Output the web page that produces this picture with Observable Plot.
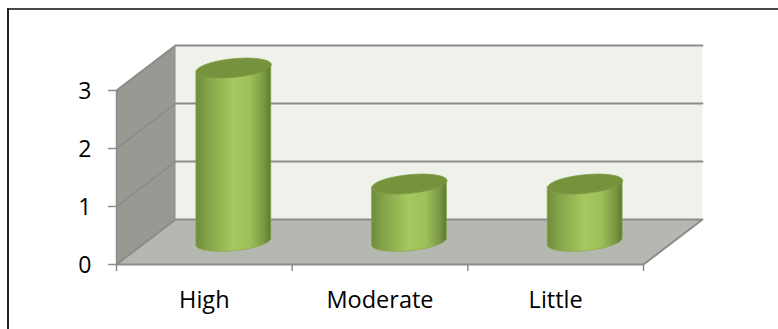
<!DOCTYPE html>
<html>
<head>
<meta charset="utf-8">
<script src="https://cdn.jsdelivr.net/npm/d3@7"></script>
<script src="https://cdn.jsdelivr.net/npm/@observablehq/plot@0.6"></script>
<style>
  html, body { margin: 0; padding: 0; background: #fff; overflow: hidden; }
  #chart { position: relative; width: 778px; height: 329px; }
  #chart svg { position: absolute; left: 0; top: 0; }
  #rule-top { position: absolute; left: 7px; top: 8px; width: 771px; height: 2px; background: #4a4a4a; }
  #rule-left { position: absolute; left: 7px; top: 8px; width: 2px; height: 321px; background: #222; }
</style>
</head>
<body>
<div id="chart"><div id="rule-top"></div><div id="rule-left"></div></div>
<script>
// Chart values
const categories = ["High", "Moderate", "Little"];
const values = [3, 1, 1];
const yTicks = [0, 1, 2, 3];

// Oblique projection: depth d (0 = front, 1 = back) shifts a point right and up.
const depthX = 59 / 175.67;   // category units per full depth
const depthY = 45 / 58;       // value units per full depth
const project = (c, v, d) => ({x: c + d * depthX, y: v + d * depthY});

const nCat = categories.length;
const yMax = d3.max(yTicks);

// Wall and floor outlines
const poly = (corners) => corners.map(([c, v, d]) => project(c, v, d));
const leftWall = poly([[0, 0, 0], [0, yMax, 0], [0, yMax, 1], [0, 0, 1], [0, 0, 0]]);
const backWall = poly([[0, 0, 1], [0, yMax, 1], [nCat, yMax, 1], [nCat, 0, 1], [0, 0, 1]]);
const floor = poly([[0, 0, 0], [0, 0, 1], [nCat, 0, 1], [nCat, 0, 0], [0, 0, 0]]);

// Gridlines run along the left wall and then across the back wall
const grid = yTicks.filter((v) => v > 0).flatMap((v) =>
  poly([[0, v, 0], [0, v, 1], [nCat, v, 1]]).map((p) => ({...p, v}))
);

// Cylinders: a circle on the depth plane becomes a tilted ellipse
const radiusC = 0.2;   // half width along the category axis
const radiusD = 0.22;  // half width along the depth axis
const ringPoint = (i, v, t) => project(
  i + 0.5 + radiusC * Math.cos(t),
  v,
  0.5 + radiusD * Math.sin(t)
);
const steps = d3.range(0, 121).map((k) => k / 120);
// Parameter of the leftmost silhouette point of the ellipse
const t0 = Math.PI + Math.atan2(radiusD * depthX, radiusC);

// Front half of the rim swept from the floor up to the bar's value
const sides = categories.flatMap((name, i) => steps.map((s) => {
  const t = t0 + s * Math.PI;
  const low = ringPoint(i, 0, t);
  const high = ringPoint(i, values[i], t);
  return {name, x: low.x, y1: low.y, y2: high.y};
}));
const capOutlines = categories.flatMap((name, i) => steps.map((s) => ({
  name, ...ringPoint(i, values[i], s * 2 * Math.PI)
})));

const gradient = () => {
  const defs = d3.create("svg:defs");
  const g = defs.append("linearGradient").attr("id", "cylinder")
    .attr("x1", 0).attr("x2", 1).attr("y1", 0).attr("y2", 0);
  [[0, "#6f8c39"], [0.14, "#83a148"], [0.5, "#a7c860"], [0.72, "#9fc05a"], [0.9, "#7b9a44"], [1, "#5f7932"]]
    .forEach(([o, c]) => g.append("stop").attr("offset", o).attr("stop-color", c));
  return defs.node();
};

const wallStroke = "#8c8c8c";
const labelFont = "Open Sans";
const plot = Plot.plot({
  width: 778,
  height: 329,
  marginLeft: 0, marginRight: 0, marginTop: 0, marginBottom: 0,
  x: {type: "linear", domain: [0, nCat], range: [116, 643], axis: null},
  y: {type: "linear", domain: [0, yMax], range: [264, 90], axis: null},
  style: {background: "transparent", overflow: "visible"},
  marks: [
    gradient,
    Plot.line(leftWall, {x: "x", y: "y", fill: "#979993", stroke: wallStroke, strokeWidth: 1.5}),
    Plot.line(backWall, {x: "x", y: "y", fill: "#eff2ea", stroke: "none"}),
    Plot.line(floor, {x: "x", y: "y", fill: "#b5b7b1", stroke: wallStroke, strokeWidth: 2}),
    Plot.line(grid, {x: "x", y: "y", z: "v", stroke: wallStroke, strokeWidth: 1.8}),
    // Value axis ticks
    Plot.ruleY(yTicks, {y: (d) => d, x1: () => -8 / 175.67, x2: () => 0, stroke: wallStroke, strokeWidth: 1.5}),
    // Category axis ticks
    Plot.ruleX(d3.range(nCat + 1), {x: (d) => d, y1: () => 0, y2: () => -7 / 58, stroke: wallStroke, strokeWidth: 1.5}),
    // Cylinder bodies and caps
    Plot.areaY(sides, {x: "x", y1: "y1", y2: "y2", z: "name", fill: "url(#cylinder)", stroke: "#8aa84a", strokeWidth: 0.7}),
    Plot.line(capOutlines, {x: "x", y: "y", z: "name", fill: "#76923c", stroke: "#7c9a42", strokeWidth: 0.8}),
    // Labels
    Plot.text(yTicks, {x: () => 0, y: (d) => d, text: (d) => String(d), dx: -25, dy: 1, textAnchor: "end", fontSize: 23, fontFamily: labelFont, fill: "#000"}),
    Plot.text(categories, {x: (d, i) => i + 0.5, y: () => 0, text: (d) => d, dy: 36, fontSize: 23.5, fontFamily: labelFont, fill: "#000"})
  ]
});
document.getElementById("chart").prepend(plot);
</script>
</body>
</html>
